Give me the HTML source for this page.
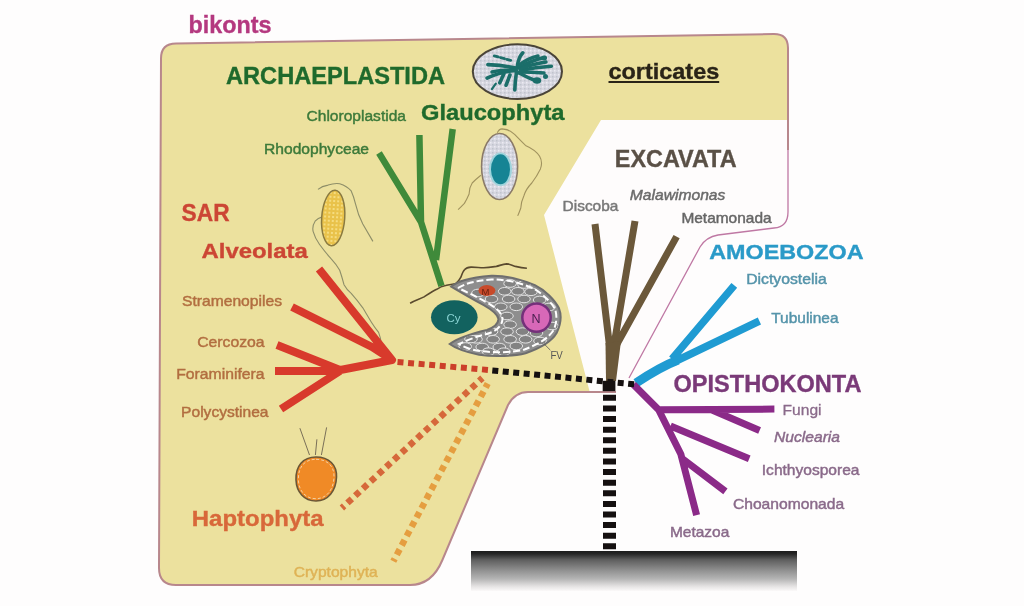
<!DOCTYPE html>
<html><head><meta charset="utf-8">
<style>
html,body{margin:0;padding:0;background:#fefdfd;width:1024px;height:606px;overflow:hidden}
svg{display:block;filter:blur(0.45px)}
text{font-family:"Liberation Sans",sans-serif}
.b{font-weight:bold;stroke-width:0.35}
.r{stroke-width:0.45}
</style></head>
<body>
<svg width="1024" height="606" viewBox="0 0 1024 606">
<!-- bikonts region -->
<path d="M161,58.5 Q161,43.5 176,43.5 L774,34 Q788,34 788,48 L788,212 Q788,227 774,228 L718,235 Q706,237 700,247 L629,378 L616,392 L528,392 Q515,392 508,405 L442.4,560 Q432,585 410,585 L176,585 Q159,585 159,568 Z" fill="#ece19e"/>
<!-- excavata white region -->
<path d="M601,120 L788,120 L788,212 Q788,227 774,228 L718,235 Q706,237 700,247 L631,378 L618,393 L590,393 L544,215 Z" fill="#fefcfc"/>
<path d="M788,150 L788,48 Q788,34 774,34 L176,43.5 Q161,43.5 161,58.5 L159,568 Q159,585 176,585 L410,585 Q432,585 442.4,560 L508,405 Q515,392 528,392 L616,392" fill="none" stroke="#b8878c" stroke-width="2"/>
<path d="M788,150 L788,212 Q788,227 774,228 L718,235 Q706,237 700,247 L629,378" fill="none" stroke="#bf78a4" stroke-width="1.3"/>
<!-- cells -->
<defs>
<pattern id="speck" width="4" height="4" patternUnits="userSpaceOnUse">
<rect width="4" height="4" fill="#d6d6e0"/><rect x="0" y="0" width="1.5" height="1.5" fill="#c0c4cc"/><rect x="2" y="2" width="1.5" height="1.5" fill="#ececf2"/>
</pattern>
<pattern id="yspeck" width="4" height="4" patternUnits="userSpaceOnUse">
<rect width="4" height="4" fill="#e9c24a"/><rect x="0" y="0" width="2" height="2" fill="#f5dc80"/>
</pattern>
</defs>
<!-- glaucophyte top -->
<ellipse cx="517.4" cy="71.6" rx="44.6" ry="27.4" fill="url(#speck)" stroke="#4a4438" stroke-width="2"/>
<g stroke="#1b6e6a" stroke-linecap="round" fill="none">
<path d="M487.9,64.6 Q500,65 514.8,67.8 M487.1,78.1 Q500,72 516.4,70.2 M522.8,52.8 Q518,58 517.2,68 M519.6,67.8 Q532,60 544.9,57.5 M521.2,70.2 Q535,67 551.3,66.2 M519.6,73.3 Q528,78 537,81.3 M516.4,72.5 Q515,82 514.8,90 M510,74.9 L506.1,85.2 M503.8,74.1 L499.8,82.8" stroke-width="3.6"/>
<path d="M494.3,55.9 L511.7,60.7" stroke-width="2.8" stroke-dasharray="4 2.5"/>
<path d="M520,69 Q532,64 546,62 M519,72 Q532,72 544,73 M512,70 Q500,70 492,72 M518,66 Q528,58 538,56" stroke-width="3.4"/>
<path d="M495.8,83.6 L491.9,89.2" stroke-width="2.2"/>
</g>
<ellipse cx="537" cy="80.5" rx="4.2" ry="3.2" fill="#1b6e6a"/>
<ellipse cx="545.5" cy="76.5" rx="2.5" ry="2.5" fill="#1b6e6a"/>
<ellipse cx="544" cy="58" rx="3" ry="2.5" fill="#1b6e6a"/>
<!-- glaucophyte cell 2 -->
<path d="M497.3,132.8 Q499,129 502,128.9 Q509,129 514.6,134.4 Q520,140 525.5,145.4 Q536,150 539.6,156.3 Q543,162 540.4,168.9 Q537,176 531.8,183 Q526,189 524,195.5 Q521,202 520.8,208 Q519,213 517.7,215.9 M480.9,175.2 Q476,179 472.2,183 Q469,188 469.1,194 Q467,199 464.4,203.4 Q461,207 458.1,209.6" fill="none" stroke="#a0925e" stroke-width="1.1"/>
<ellipse cx="499.6" cy="166.5" rx="18" ry="33" fill="url(#speck)" stroke="#8a7a68" stroke-width="1.6"/>
<ellipse cx="500.5" cy="169.3" rx="11.5" ry="16.8" fill="#9fd4dc"/>
<ellipse cx="500.5" cy="169.3" rx="9.5" ry="15" fill="#168494"/>
<!-- yellow SAR cell -->
<path d="M318,189.4 Q322,186 328.1,185.1 Q334,183 339.7,183.7 Q347,186 351.2,190.9 Q354,197 355.5,203.9 Q358,215 362.8,224.1 Q368,233 372.9,241.4 M322.3,216.9 Q318,218 315.1,221.2 Q312,226 313.1,231.3 Q315,238 319.4,244.3 Q325,252 331,258.7 Q336,264 339.7,270.3 Q342,277 344,284.7 Q347,290 351.2,293.4 Q357,300 362.8,307.8 Q367,315 371.4,322.3 Q375,328 378.6,332.4 Q381,338 381.5,345.4" fill="none" stroke="#8e8e68" stroke-width="1.1"/>
<ellipse cx="333.2" cy="217.9" rx="11.5" ry="27.8" transform="rotate(4 333.2 217.9)" fill="url(#yspeck)" stroke="#8a7a40" stroke-width="1.5"/>
<!-- haptophyte cell -->
<path d="M309.5,455 L299.9,428.2 M321.4,455 L326.6,427.4 M315.4,455 L316.9,439.3" stroke="#7a7058" stroke-width="1" fill="none"/>
<path d="M316,457 C329,457 337,465 336.5,477 C336,491 328,501 316,501 C304,501 296.5,492 296,480 C295.5,466 303,457 316,457 Z" fill="#f08a26" stroke="#6a5636" stroke-width="1.6"/>
<path d="M316,459.3 C327.5,459.3 334.5,466.5 334,477 C333.5,490 326.5,498.7 316,498.7 C305.5,498.7 298.8,491 298.4,480 C298,467 304.5,459.3 316,459.3 Z" fill="none" stroke="#f4d8b0" stroke-width="0.9" stroke-dasharray="3 2"/>
<!-- pacman cell -->
<path d="M410.1,303.2 C416,300 420,299 424,296.9 C430,293 433,291 436.7,289.3 C440,287 443,286 445.6,285.5 C450,284.5 453,284.5 455.8,283.6 C459,281 460,279 460.9,277.2 C462,274 463,271 464.7,269.6 C466,268 468,267.3 471,267.1 C476,267 480,267.8 483.7,267.7 C489,267.5 492,267 496.4,266.4 C500,265.5 503,264 506.6,263.9 C510,264 512,265.5 515.4,266.4 C520,267.5 523,268 526.9,268.3" fill="none" stroke="#5a4a2e" stroke-width="1.6"/>
<defs><clipPath id="pac"><path d="M451.2,286.6 C458,281 468,278 491.5,275.8 C505,275.5 520,279 534.9,285.1 C545,290 555,300 559,308.3 C562,316 560,326 556.6,333.1 C552,341 544,347 525.6,353.3 C515,356 495,357 479.1,354.8 C466,352 455,348 449.7,344 C458,338 470,334 486.9,330 C493,328 498,325 498.5,319.2 C498,315 494,311 483.8,305.2 C476,301 462,293 451.2,286.6 Z"/></clipPath></defs>
<path d="M451.2,286.6 C458,281 468,278 491.5,275.8 C505,275.5 520,279 534.9,285.1 C545,290 555,300 559,308.3 C562,316 560,326 556.6,333.1 C552,341 544,347 525.6,353.3 C515,356 495,357 479.1,354.8 C466,352 455,348 449.7,344 C458,338 470,334 486.9,330 C493,328 498,325 498.5,319.2 C498,315 494,311 483.8,305.2 C476,301 462,293 451.2,286.6 Z" fill="#8e8e8e"/>
<g clip-path="url(#pac)" fill="#828282" stroke="#e4e4e4" stroke-width="1"><ellipse cx="510.1" cy="283.5" rx="6.3" ry="3.8"/><ellipse cx="524.0" cy="284.5" rx="6.3" ry="3.8"/><ellipse cx="504.7" cy="291.3" rx="6.3" ry="3.8"/><ellipse cx="517.9" cy="291.3" rx="6.3" ry="3.8"/><ellipse cx="531.0" cy="291.8" rx="6.3" ry="3.8"/><ellipse cx="491.5" cy="299.0" rx="6.3" ry="3.8"/><ellipse cx="508.6" cy="299.0" rx="6.3" ry="3.8"/><ellipse cx="524.0" cy="299.0" rx="6.3" ry="3.8"/><ellipse cx="539.6" cy="300.0" rx="6.3" ry="3.8"/><ellipse cx="500.8" cy="306.8" rx="6.3" ry="3.8"/><ellipse cx="516.3" cy="306.8" rx="6.3" ry="3.8"/><ellipse cx="507.0" cy="316.0" rx="6.3" ry="3.8"/><ellipse cx="510.1" cy="324.6" rx="6.3" ry="3.8"/><ellipse cx="491.5" cy="331.6" rx="6.3" ry="3.8"/><ellipse cx="507.0" cy="331.6" rx="6.3" ry="3.8"/><ellipse cx="522.5" cy="331.6" rx="6.3" ry="3.8"/><ellipse cx="536.5" cy="333.0" rx="6.3" ry="3.8"/><ellipse cx="476.0" cy="339.3" rx="6.3" ry="3.8"/><ellipse cx="493.1" cy="339.3" rx="6.3" ry="3.8"/><ellipse cx="510.1" cy="339.3" rx="6.3" ry="3.8"/><ellipse cx="525.6" cy="339.3" rx="6.3" ry="3.8"/><ellipse cx="465.2" cy="346.5" rx="6.3" ry="3.8"/><ellipse cx="482.2" cy="347.0" rx="6.3" ry="3.8"/><ellipse cx="499.3" cy="347.0" rx="6.3" ry="3.8"/><ellipse cx="516.3" cy="346.0" rx="6.3" ry="3.8"/><ellipse cx="488.4" cy="351.7" rx="6.3" ry="3.8"/><ellipse cx="503.9" cy="351.7" rx="6.3" ry="3.8"/><ellipse cx="478.0" cy="293.0" rx="6.3" ry="3.8"/><ellipse cx="471.0" cy="339.0" rx="6.3" ry="3.8"/><ellipse cx="549.0" cy="307.0" rx="6.3" ry="3.8"/><ellipse cx="552.0" cy="326.0" rx="6.3" ry="3.8"/><ellipse cx="540.0" cy="341.0" rx="6.3" ry="3.8"/></g>
<path d="M458,288 C466,283 475,281 491.5,279.5 C505,279.5 518,282 532.5,288 C542,293 551,302 555,309 C557.5,316 556.5,325 553,331 C548,338 541,343 524.5,349.5 C514,352.5 495,353 480,351 C470,349.5 464,347 459,344 C467,340 476,337 488,333.5 C495,331.5 502,327 502.5,319 C502,313 497,308 486,302 C478,297.5 467,292 458,288" fill="none" stroke="#ffffff" stroke-width="2" stroke-dasharray="7 3"/>
<path d="M451.2,286.6 C458,281 468,278 491.5,275.8 C505,275.5 520,279 534.9,285.1 C545,290 555,300 559,308.3 C562,316 560,326 556.6,333.1 C552,341 544,347 525.6,353.3 C515,356 495,357 479.1,354.8 C466,352 455,348 449.7,344 C458,338 470,334 486.9,330 C493,328 498,325 498.5,319.2 C498,315 494,311 483.8,305.2 C476,301 462,293 451.2,286.6 Z" fill="none" stroke="#6e6e6e" stroke-width="2"/>
<ellipse cx="486.9" cy="290.5" rx="8.5" ry="5.4" fill="#c84a2a"/>
<text x="481.5" y="294.5" font-size="9.5" fill="#6a2010">M</text>
<circle cx="536.5" cy="317.6" r="14.2" fill="#d868b8" stroke="#74307a" stroke-width="2.5"/>
<text x="531.5" y="322.5" font-size="12.5" fill="#4a2050">N</text>
<ellipse cx="454.3" cy="317.3" rx="23.3" ry="17" fill="#12625f"/>
<text x="446.5" y="322" font-size="11.5" fill="#8ad4d4">Cy</text>
<path d="M544.2,344 L550.4,350.2" stroke="#555" stroke-width="0.8"/>
<text x="550.4" y="358.7" font-size="10" fill="#555" textLength="12.4" lengthAdjust="spacingAndGlyphs">FV</text>
<!-- trees -->
<g fill="none" stroke-linecap="butt" stroke-linejoin="round">
<path d="M379,153 L421,222 L441.5,286 M419.4,135 L421,222 M452.7,129 L436,260" stroke="#3f8a3a" stroke-width="6.5"/>
<path d="M319,269 L392,360 M292,307 L372,347 L392,360 L330,372 M277,345 L340,370 M275,371 L340,371 M281,409 L340,371" stroke="#d83a2c" stroke-width="8"/>
<path d="M595,224 L610,350 M635,221 L614,345 M676.6,236.6 L617,344" stroke="#6b583a" stroke-width="7"/>
<path d="M605.5,343 L621,341 L616,381 L606,381 Z" fill="#6b583a" stroke="none"/>
<path d="M734.3,285.4 L672,359 M759.4,321 L674,362" stroke="#1f9bd2" stroke-width="7.5"/>
<path d="M678,360 Q660,367 636,383" stroke="#1f9bd2" stroke-width="9"/>
<path d="M633.4,384.5 L658.6,409.7 L680.9,454.3 L696.6,515.1 M658.6,409.7 L774.4,409.1 M712,410 L759.6,430.5 M670.5,426 L749.2,458.7 M682.4,458.7 L725.4,491.4" stroke="#8b2a88" stroke-width="7"/>
<path d="M397.5,362 L489,370" stroke="#cc3f2a" stroke-width="6" stroke-dasharray="6 4.6"/>
<path d="M492.3,370.4 L636,384.5" stroke="#151010" stroke-width="6" stroke-dasharray="6 4.5"/>
<rect x="602.7" y="380.8" width="12.7" height="10.4" fill="#151010"/>
<path d="M609.5,394.8 L609.5,549.5" stroke="#151010" stroke-width="13" stroke-dasharray="6 4.61"/>
<path d="M341.9,508 L482.4,378" stroke="#d6683a" stroke-width="6.5" stroke-dasharray="6 4.56" stroke-dashoffset="3"/>
<path d="M393.3,561.3 L487.7,383.6" stroke="#e59e40" stroke-width="6.5" stroke-dasharray="6 4.52" stroke-dashoffset="3"/>
</g>
<!-- bottom bar -->
<defs>
<linearGradient id="bar" x1="0" y1="0" x2="0" y2="1">
<stop offset="0" stop-color="#1c1c1c"/><stop offset="0.07" stop-color="#262626"/><stop offset="0.22" stop-color="#5e5e5e"/><stop offset="0.5" stop-color="#939393"/><stop offset="0.7" stop-color="#b5b5b5"/><stop offset="0.88" stop-color="#e4e2e2"/><stop offset="1" stop-color="#fbf9f9"/>
</linearGradient>
</defs>
<rect x="471" y="551" width="326" height="40" fill="url(#bar)"/>

<!-- texts -->
<text class="b" x="188.5" y="33.3" font-size="23.5" fill="#b4387f" stroke="#b4387f" textLength="83" lengthAdjust="spacingAndGlyphs">bikonts</text>
<text class="b" x="226" y="84" font-size="23.5" fill="#1f6a2c" stroke="#1f6a2c" textLength="219" lengthAdjust="spacingAndGlyphs">ARCHAEPLASTIDA</text>
<text class="r" x="306.5" y="121" font-size="15.5" fill="#3d7a3a" stroke="#3d7a3a" textLength="99.5" lengthAdjust="spacingAndGlyphs">Chloroplastida</text>
<text class="b" x="421" y="119.7" font-size="21.5" fill="#1f6a2c" stroke="#1f6a2c" textLength="143.5" lengthAdjust="spacingAndGlyphs">Glaucophyta</text>
<text class="r" x="264" y="154.2" font-size="15.3" fill="#3d7a3a" stroke="#3d7a3a" textLength="105" lengthAdjust="spacingAndGlyphs">Rhodophyceae</text>
<text class="b" x="608.5" y="79.4" font-size="22" fill="#2a2418" stroke="#2a2418" textLength="110.7" lengthAdjust="spacingAndGlyphs">corticates</text>
<rect x="608.5" y="81" width="110.7" height="2" fill="#2a2418"/>

<text class="b" x="181.6" y="221.2" font-size="23.5" fill="#cc4634" stroke="#cc4634" textLength="48" lengthAdjust="spacingAndGlyphs">SAR</text>
<text class="b" x="201.5" y="257.7" font-size="20.5" fill="#cc4634" stroke="#cc4634" textLength="106.3" lengthAdjust="spacingAndGlyphs">Alveolata</text>
<text class="r" x="182" y="306" font-size="14.8" fill="#b26e40" stroke="#b26e40" textLength="100" lengthAdjust="spacingAndGlyphs">Stramenopiles</text>
<text class="r" x="197.2" y="346.8" font-size="15" fill="#b26e40" stroke="#b26e40" textLength="67.4" lengthAdjust="spacingAndGlyphs">Cercozoa</text>
<text class="r" x="176.2" y="378.5" font-size="15.5" fill="#b26e40" stroke="#b26e40" textLength="88.4" lengthAdjust="spacingAndGlyphs">Foraminifera</text>
<text class="r" x="181.1" y="417.4" font-size="15" fill="#b26e40" stroke="#b26e40" textLength="87.4" lengthAdjust="spacingAndGlyphs">Polycystinea</text>
<text class="b" x="191.8" y="526" font-size="21.5" fill="#d8683a" stroke="#d8683a" textLength="131.7" lengthAdjust="spacingAndGlyphs">Haptophyta</text>
<text class="r" x="293.7" y="576.7" font-size="14.4" fill="#dfb356" stroke="#dfb356" textLength="84" lengthAdjust="spacingAndGlyphs">Cryptophyta</text>

<text class="b" x="614.8" y="166.9" font-size="23.5" fill="#5a5046" stroke="#5a5046" textLength="121.8" lengthAdjust="spacingAndGlyphs">EXCAVATA</text>
<text class="r" x="629.8" y="199.7" font-size="14.5" font-style="italic" fill="#6b6b6b" stroke="#6b6b6b" textLength="95.6" lengthAdjust="spacingAndGlyphs">Malawimonas</text>
<text class="r" x="562.6" y="210.5" font-size="15" fill="#787878" stroke="#787878" textLength="55.8" lengthAdjust="spacingAndGlyphs">Discoba</text>
<text class="r" x="681.4" y="222.7" font-size="15" fill="#666" stroke="#666" textLength="90.2" lengthAdjust="spacingAndGlyphs">Metamonada</text>

<text class="b" x="709.2" y="259" font-size="21" fill="#2a9ac8" stroke="#2a9ac8" textLength="154.4" lengthAdjust="spacingAndGlyphs">AMOEBOZOA</text>
<text class="r" x="746.2" y="284.1" font-size="14.5" fill="#5594aa" stroke="#5594aa" textLength="80.5" lengthAdjust="spacingAndGlyphs">Dictyostelia</text>
<text class="r" x="771.2" y="322.9" font-size="15" fill="#5594aa" stroke="#5594aa" textLength="67.4" lengthAdjust="spacingAndGlyphs">Tubulinea</text>

<text class="b" x="673.5" y="391.7" font-size="23" fill="#7a3a78" stroke="#7a3a78" textLength="188" lengthAdjust="spacingAndGlyphs">OPISTHOKONTA</text>
<text class="r" style="stroke-width:0.3" x="782.6" y="415" font-size="15" fill="#8a6a8a" stroke="#8a6a8a" textLength="39" lengthAdjust="spacingAndGlyphs">Fungi</text>
<text class="r" x="774" y="441.8" font-size="15" font-style="italic" fill="#8a6a8a" stroke="#8a6a8a" textLength="66" lengthAdjust="spacingAndGlyphs">Nuclearia</text>
<text class="r" x="761.8" y="474.7" font-size="15" fill="#8a6a8a" stroke="#8a6a8a" textLength="97.7" lengthAdjust="spacingAndGlyphs">Ichthyosporea</text>
<text class="r" x="732.9" y="509.2" font-size="15" fill="#8a6a8a" stroke="#8a6a8a" textLength="111.3" lengthAdjust="spacingAndGlyphs">Choanomonada</text>
<text class="r" x="669.9" y="536.8" font-size="15" fill="#8a6a8a" stroke="#8a6a8a" textLength="59.4" lengthAdjust="spacingAndGlyphs">Metazoa</text>
</svg>
</body></html>
